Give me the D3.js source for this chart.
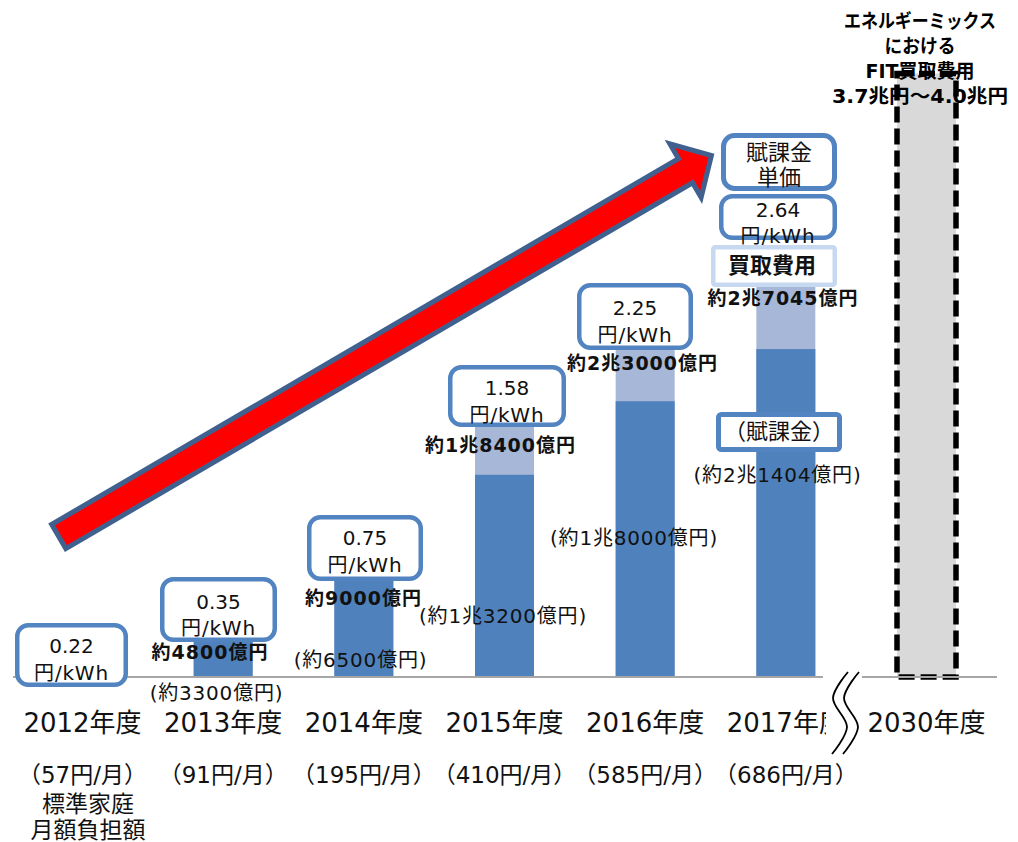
<!DOCTYPE html>
<html><head><meta charset="utf-8">
<script src="https://cdn.jsdelivr.net/npm/d3@7"></script>
<style>body{margin:0;background:#fff}svg{display:block}</style>
</head><body><svg id="c" width="1018" height="842"></svg>
<script>
// ---------- data ----------
const categories = ["2012年度","2013年度","2014年度","2015年度","2016年度","2017年度","2030年度"];
const fukakin = [1300, 3300, 6500, 13200, 18000, 21404];   // 賦課金 (億円)
const kaitori = [2500, 4800, 9000, 18400, 23000, 27045];   // 買取費用 (億円)
const target2030 = 39400;                                   // エネルギーミックス
const unitPrices = ["0.22","0.35","0.75","1.58","2.25","2.64"];
const kaitoriLabels = ["", "約4800億円", "約9000億円", "約1兆8400億円", "約2兆3000億円", "約2兆7045億円"];
const fukakinLabels = ["", "(約3300億円)", "(約6500億円)", "(約1兆3200億円)", "(約1兆8000億円)", "(約2兆1404億円)"];
const monthly = ["（57円/月）","（91円/月）","（195円/月）","（410円/月）","（585円/月）","（686円/月）"];
const header2030 = ["エネルギーミックス","における","FIT買取費用","3.7兆円～4.0兆円"];

// ---------- layout ----------
const F = "'DejaVu Sans','Noto Sans CJK JP',sans-serif";
const DARK = "#4f81bd", LIGHT = "#a7b7d7", BOX = "#5284c1";
const svg = d3.select("#c");
const base = 677, barW = 59;
const x = d3.scalePoint().domain(categories).range([82.5, 926.5]);
const y = d3.scaleLinear().domain([0, 40000]).range([base, base - 612.8]);
const yrs = categories.slice(0, 6);

// arrow
(function(){
  const x0 = 57, y0 = 537.5, x1 = 714, y1 = 154;
  const ang = Math.atan2(y1 - y0, x1 - x0) * 180 / Math.PI;
  const L = Math.hypot(x1 - x0, y1 - y0) - 3;
  const pts = [[2,-14],[L-30,-14],[L-30,-31],[L,0],[L-30,31],[L-30,14],[2,14]];
  svg.append("polygon").attr("points", pts.map(p => p.join(",")).join(" "))
    .attr("transform", `translate(${x0},${y0}) rotate(${ang})`)
    .attr("fill", "#ff0000").attr("stroke", "#40618f").attr("stroke-width", 5)
    .attr("stroke-linejoin", "miter");
})();

// bars
const g = svg.append("g");
g.selectAll(".lt").data(yrs).join("rect")
  .attr("x", d => x(d) - barW/2).attr("width", barW)
  .attr("y", (d,i) => y(kaitori[i])).attr("height", (d,i) => y(0) - y(kaitori[i]))
  .attr("fill", LIGHT);
g.selectAll(".dk").data(yrs).join("rect")
  .attr("x", d => x(d) - barW/2).attr("width", barW)
  .attr("y", (d,i) => y(fukakin[i])).attr("height", (d,i) => y(0) - y(fukakin[i]))
  .attr("fill", DARK);
// 2030 bar fill
const c30 = x(categories[6]);
g.append("rect").attr("x", c30 - barW/2).attr("width", barW)
  .attr("y", y(target2030)).attr("height", y(0) - y(target2030)).attr("fill", "#d9d9d9");

// header text for 2030
const hb = [28, 53, 78, 103], hl = [152, 71, null, 176];
header2030.forEach((t,i) => {
  const tx = svg.append("text").attr("x", 920).attr("y", hb[i]).attr("text-anchor","middle")
    .attr("font-family", F).attr("font-weight", 700).attr("font-size", 19).attr("fill","#000").text(t);
  if (hl[i]) tx.attr("textLength", hl[i]).attr("lengthAdjust","spacingAndGlyphs");
});
// 2030 dashed outline
svg.append("rect").attr("x", c30 - barW/2).attr("width", barW)
  .attr("y", y(target2030)).attr("height", y(0) - y(target2030))
  .attr("fill", "none").attr("stroke", "#000").attr("stroke-width", 5.5).attr("stroke-dasharray", "16,6");

// axis
svg.append("line").attr("x1", 13).attr("x2", 823).attr("y1", base).attr("y2", base).attr("stroke","#a6a6a6").attr("stroke-width",2);
svg.append("line").attr("x1", 862).attr("x2", 997).attr("y1", base).attr("y2", base).attr("stroke","#a6a6a6").attr("stroke-width",2);

// value labels
const kPos = [null,[210,659],[363.5,605],[500.5,452],[642.5,370],[783,305]];
const fPos = [null,[216.5,700],[360.5,667],[503,623],[634,545],[777.5,482]];
kaitoriLabels.forEach((t,i) => { if (!t) return;
  svg.append("text").attr("x", kPos[i][0]).attr("y", kPos[i][1]).attr("text-anchor","middle")
    .attr("font-family", F).attr("font-weight", 700).attr("font-size", 19).attr("letter-spacing", 1)
    .attr("fill","#111").text(t);
});
fukakinLabels.forEach((t,i) => { if (!t) return;
  svg.append("text").attr("x", fPos[i][0]).attr("y", fPos[i][1]).attr("text-anchor","middle")
    .attr("font-family", F).attr("font-size", 20).attr("letter-spacing", 0.8)
    .attr("fill","#111").text(t);
});

// rounded boxes helper
function box(x0, y0, x1, y1, stroke, sw, rx) {
  svg.append("rect").attr("x", x0 + sw/2).attr("y", y0 + sw/2)
    .attr("width", x1 - x0 - sw).attr("height", y1 - y0 - sw).attr("rx", rx).attr("ry", rx)
    .attr("fill", "#fff").attr("stroke", stroke).attr("stroke-width", sw);
}
function txt(t, cx, by, size, weight, ls) {
  svg.append("text").attr("x", cx).attr("y", by).attr("text-anchor","middle")
    .attr("font-family", F).attr("font-size", size).attr("font-weight", weight || 400)
    .attr("letter-spacing", ls || 0).attr("fill","#111").text(t);
}
const uBox = [
  [15,623,128,687,653,680],
  [160,577,277,642,609,635],
  [307,515,423,581,545,572],
  [448,365,566,427,395,422],
  [577,283,693,350,315,342],
  [719,194,837,240,217,243]];
// 賦課金 label box on 2017 bar
box(716,412,842,452, BOX, 5, 3);
txt("（賦課金）", 779, 439, 22);
// unit-price boxes
box(721,133,837,191, BOX, 5, 11);
txt("賦課金", 779, 160, 22); txt("単価", 779, 185, 22);
unitPrices.forEach((p,i) => {
  const b = uBox[i];
  box(b[0], b[1], b[2], b[3], BOX, 4.5, 11);
  txt(p, (b[0]+b[2])/2, b[4], 20);
  txt("円/kWh", (b[0]+b[2])/2, b[5], 20, 400, 0.8);
});
box(711,245,837,287, "#c6d9f1", 4.5, 2);
txt("買取費用", 772, 273, 22, 700);

// x labels
categories.forEach(c => txt(c, x(c), 732, 26));
monthly.forEach((m,i) => txt(m, x(categories[i]), 783, 23));
txt("標準家庭", 88, 812, 23);
txt("月額負担額", 88, 838, 23);

// axis break
svg.append("rect").attr("x", 826).attr("y", 668).attr("width", 36).attr("height", 86).attr("fill", "#fff");
const wave = d3.line().curve(d3.curveCatmullRom);
[0, 11].forEach(dx => {
  svg.append("path").attr("d", wave([[848+dx,672],[833+dx,698],[847+dx,727],[832+dx,754]]))
    .attr("fill","none").attr("stroke","#000").attr("stroke-width",1.8);
});
</script></body></html>
